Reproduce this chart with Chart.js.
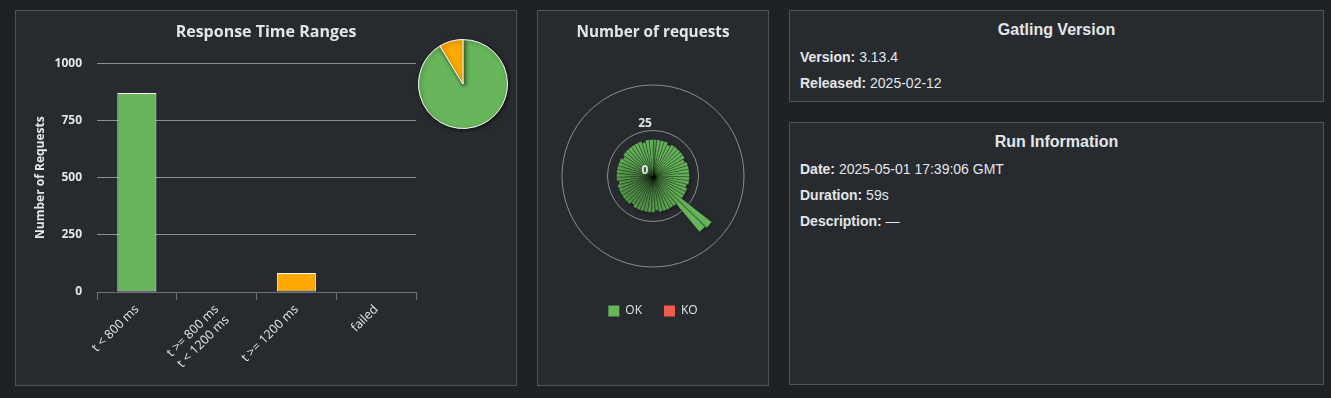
<!DOCTYPE html>
<html>
<head>
<meta charset="utf-8">
<script src="https://cdn.jsdelivr.net/npm/chart.js@4.4.1/dist/chart.umd.min.js"></script>
<style>
  body { margin: 0; background: #1f2225; }
  #wrap { position: relative; width: 1331px; height: 398px; overflow: hidden; }
  .panel { position: absolute; background: #272b30; border: 1px solid #4f5256; }
  .panel canvas { position: absolute; }
  .info { font-family: "Liberation Sans", Arial, sans-serif; color: #e4e6e8; }
  .info .ttl { position: absolute; left: 0; right: 0; top: 9px; height: 20px; line-height: 20px; text-align: center; font-size: 16px; font-weight: bold; }
  .info .rows { position: absolute; left: 10px; top: 33px; }
  .info .row { height: 26px; line-height: 26px; font-size: 14px; white-space: nowrap; }
</style>
</head>
<body>
<div id="wrap">
  <div class="panel" style="left:15px;top:10px;width:500px;height:374px">
    <canvas id="graficoBarras" width="500" height="374" style="left:0;top:0"></canvas>
    <canvas id="graficoPie" width="96" height="96" style="left:399px;top:25px"></canvas>
  </div>
  <div class="panel" style="left:537px;top:10px;width:230px;height:374px">
    <canvas id="graficoPolar" width="230" height="374" style="left:0;top:0"></canvas>
  </div>
  <div class="panel info" style="left:789px;top:10px;width:533px;height:90px">
    <div class="ttl">Gatling Version</div>
    <div class="rows">
      <div class="row"><b>Version:</b> 3.13.4</div>
      <div class="row"><b>Released:</b> 2025-02-12</div>
    </div>
  </div>
  <div class="panel info" style="left:789px;top:122px;width:533px;height:261px">
    <div class="ttl">Run Information</div>
    <div class="rows">
      <div class="row"><b>Date:</b> 2025-05-01 17:39:06 GMT</div>
      <div class="row"><b>Duration:</b> 59s</div>
      <div class="row"><b>Description:</b> —</div>
    </div>
  </div>
</div>
<script>
// datos
const rangos = [["t < 800 ms"], ["t >= 800 ms", "t < 1200 ms"], ["t >= 1200 ms"], ["failed"]]
const conteos = [870, 0, 83, 0]
const coloresRangos = ["#68b65c", "#ffdd00", "#ffa900", "#f15b4f"]
const ticksY = [0, 250, 500, 750, 1000]

const okPorSegundo = [
  20, 20, 20, 20, 19, 20, 20, 20, 20, 20,
  19, 20, 20, 20, 20, 20, 20, 19, 20, 20,
  20, 41, 40, 20, 20, 20, 20, 20, 19, 20,
  20, 20, 20, 20, 20, 19, 20, 20, 20, 20,
  20, 20, 19, 20, 20, 20, 20, 20, 20, 19,
  20, 20, 20, 20, 20, 20, 19, 20, 20
]
const series = ["OK", "KO"]
const coloresSeries = ["#68b65c", "#f15b4f"]
const ticksPolar = [0, 25, 50]

const texto = "#e2e6ea"
const fuente = "'Open Sans', 'DejaVu Sans', sans-serif"

const sombra = (alfa, blur) => ({
  id: "sombra",
  beforeDatasetsDraw(chart) {
    const c = chart.ctx
    c.save()
    c.shadowColor = "rgba(0,0,0," + alfa + ")"
    c.shadowBlur = blur
    c.shadowOffsetX = 1.5
    c.shadowOffsetY = 1.5
  },
  afterDatasetsDraw(chart) {
    chart.ctx.restore()
  }
})

// barras
const graficoBarras = new Chart(document.getElementById("graficoBarras"), {
  type: "bar",
  data: {
    labels: rangos,
    datasets: [{
      data: conteos,
      backgroundColor: coloresRangos,
      borderColor: "#ffffff",
      borderWidth: 1,
      borderSkipped: false,
      categoryPercentage: 1,
      barPercentage: 0.49
    }]
  },
  options: {
    responsive: false,
    animation: false,
    scales: {
      x: {
        grid: { drawOnChartArea: false, drawTicks: true, tickLength: 8, color: "#6e7175", offset: true },
        border: { display: true, color: "#6e7175" },
        ticks: { color: texto, font: { family: fuente, size: 12.5 }, minRotation: 45, maxRotation: 45, padding: 2 },
        afterFit: (s) => { s.height = 93 }
      },
      y: {
        min: 0,
        max: 1000,
        afterBuildTicks: (s) => { s.ticks = ticksY.map((v) => ({ value: v })) },
        grid: { color: "#8a8d90", drawTicks: false },
        border: { display: false },
        ticks: { color: texto, font: { family: fuente, size: 12, weight: "bold" }, padding: 15, callback: (v) => String(v) },
        title: { display: true, text: "Number of Requests", color: texto, font: { family: fuente, size: 12, weight: "bold" }, padding: { top: 17 } },
        afterFit: (s) => { s.width = 81 }
      },
      // espacio a la derecha para la torta
      espacio: {
        position: "right",
        grid: { display: false },
        border: { display: false },
        ticks: { display: false },
        afterFit: (s) => { s.width = 100 }
      }
    },
    plugins: {
      legend: { display: false },
      tooltip: { enabled: false },
      title: {
        display: true,
        text: "Response Time Ranges",
        color: texto,
        font: { family: fuente, size: 16, weight: "bold" },
        padding: { top: 12, bottom: 21 }
      }
    }
  }
})

// torta
const graficoPie = new Chart(document.getElementById("graficoPie"), {
  type: "pie",
  data: {
    labels: rangos.map((r) => r.join(" ")),
    datasets: [{ data: conteos, backgroundColor: coloresRangos, borderColor: "#ffffff", borderWidth: 1 }]
  },
  options: {
    responsive: false,
    animation: false,
    layout: { padding: 3 },
    plugins: { legend: { display: false }, tooltip: { enabled: false } }
  },
  plugins: [sombra(0.55, 4)]
})

// polar
const textoTicks = {
  id: "textoTicks",
  afterDraw(chart) {
    const r = chart.scales.r
    const c = chart.ctx
    c.save()
    c.fillStyle = texto
    c.font = "bold 12px " + fuente
    c.textAlign = "center"
    c.textBaseline = "bottom"
    ticksPolar.slice(0, 2).forEach((v) => {
      const d = r.getDistanceFromCenterForValue(v)
      c.fillText(String(v), r.xCenter - 8, r.yCenter - d + (v === 0 ? 1 : -1))
    })
    c.restore()
  }
}

const graficoPolar = new Chart(document.getElementById("graficoPolar"), {
  type: "polarArea",
  data: {
    labels: okPorSegundo.map((_, i) => i),
    datasets: [{
      data: okPorSegundo,
      backgroundColor: coloresSeries[0],
      borderColor: "rgba(25,40,25,0.32)",
      borderWidth: 1
    }]
  },
  options: {
    responsive: false,
    animation: false,
    layout: { padding: { left: 24, right: 24, bottom: 58 } },
    scales: {
      r: {
        min: 0,
        max: 50,
        afterBuildTicks: (s) => { s.ticks = ticksPolar.map((v) => ({ value: v })) },
        ticks: { display: false },
        grid: { color: "#8a8d90", lineWidth: 1 },
        angleLines: { display: false },
        pointLabels: { display: false }
      }
    },
    plugins: {
      tooltip: { enabled: false },
      title: {
        display: true,
        text: "Number of requests",
        color: texto,
        font: { family: fuente, size: 15.3, weight: "bold" },
        padding: { top: 12, bottom: 28 }
      },
      legend: {
        position: "bottom",
        onClick: null,
        labels: {
          color: texto,
          font: { family: fuente, size: 12 },
          boxWidth: 11,
          boxHeight: 11,
          padding: 22,
          generateLabels: () => series.map((s, i) => ({
            text: s,
            fillStyle: coloresSeries[i],
            strokeStyle: coloresSeries[i],
            lineWidth: 0,
            fontColor: texto,
            hidden: false,
            index: i
          }))
        }
      }
    }
  },
  plugins: [sombra(0.3, 3), textoTicks]
})
</script>
</body>
</html>
